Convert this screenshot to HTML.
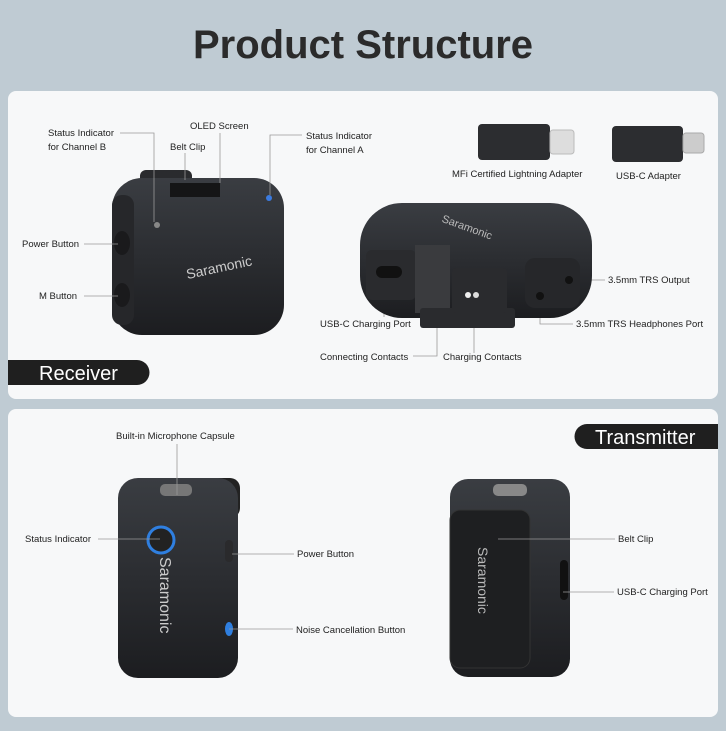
<!DOCTYPE html>
<html><head><meta charset="utf-8"><style>
body{margin:0;width:726px;height:726px;background:#bfcbd3;overflow:hidden;font-family:"Liberation Sans",sans-serif}
</style></head><body>
<svg width="726" height="726" viewBox="0 0 726 726" xmlns="http://www.w3.org/2000/svg" font-family="Liberation Sans, sans-serif">
<defs>
<linearGradient id="dk" x1="0" y1="0" x2="0" y2="1"><stop offset="0" stop-color="#3a3d42"/><stop offset="1" stop-color="#1c1d20"/></linearGradient>
</defs>
<rect width="726" height="726" fill="#bfcbd3"/>
<text x="363" y="58" text-anchor="middle" font-size="40" font-weight="bold" fill="#2b2b2b">Product Structure</text>
<rect x="8" y="91" width="710" height="308" rx="8" fill="#f7f8f9"/>
<rect x="8" y="409" width="710" height="308" rx="8" fill="#f7f8f9"/>
<path d="M8 360 H137 a12.5 12.5 0 0 1 0 25 H8 Z" fill="#1f1f1f"/>
<text x="39" y="380" font-size="20" fill="#fff">Receiver</text>
<path d="M718 424 H587 a12.5 12.5 0 0 0 0 25 H718 Z" fill="#1f1f1f"/>
<text x="595" y="444" font-size="20" fill="#fff">Transmitter</text>

<rect x="140" y="170" width="52" height="30" rx="6" fill="#2a2b2e"/>
<rect x="112" y="178" width="172" height="157" rx="30" fill="url(#dk)"/>
<rect x="112" y="195" width="22" height="130" rx="10" fill="#26272a"/>
<ellipse cx="122" cy="243" rx="8" ry="12" fill="#1a1a1c"/>
<ellipse cx="122" cy="295" rx="8" ry="12" fill="#1a1a1c"/>
<rect x="170" y="183" width="50" height="14" fill="#151516"/>
<circle cx="157" cy="225" r="3" fill="#888"/>
<circle cx="269" cy="198" r="3" fill="#3b7be0"/>
<text x="185" y="273" font-size="14" fill="#ccc" transform="rotate(-12 215 265)">Saramonic</text>
<g font-size="9.5" fill="#222">
<text x="48" y="136">Status Indicator</text><text x="48" y="150">for Channel B</text>
<text x="190" y="129">OLED Screen</text><text x="170" y="150">Belt Clip</text>
<text x="306" y="139">Status Indicator</text><text x="306" y="153">for Channel A</text>
<text x="22" y="247">Power Button</text><text x="39" y="299">M Button</text>
<text x="452" y="177">MFi Certified Lightning Adapter</text><text x="616" y="179">USB-C Adapter</text>
<text x="608" y="283">3.5mm TRS Output</text><text x="576" y="327">3.5mm TRS Headphones Port</text>
<text x="320" y="327">USB-C Charging Port</text>
<text x="320" y="360">Connecting Contacts</text><text x="443" y="360">Charging Contacts</text>
</g>
<g stroke="#999" stroke-width="0.8" fill="none">
<path d="M120 133 H154 V222"/><path d="M220 133 V183"/><path d="M185 153 V180"/><path d="M302 135 H270 V195"/>
<path d="M84 244 H118"/><path d="M84 296 H118"/>
<path d="M384 317 V272"/><path d="M413 356 H437 V282"/><path d="M474 353 V298"/>
<path d="M570 280 H605"/><path d="M540 296 V324 H573"/>
</g>
<rect x="478" y="124" width="72" height="36" rx="4" fill="#2c2d30"/><rect x="550" y="130" width="24" height="24" rx="3" fill="#ddd" stroke="#bbb"/>
<rect x="612" y="126" width="71" height="36" rx="4" fill="#2c2d30"/><rect x="683" y="133" width="21" height="20" rx="3" fill="#ccc" stroke="#aaa"/>
<rect x="360" y="203" width="232" height="115" rx="42" fill="url(#dk)"/>
<rect x="366" y="250" width="50" height="50" rx="6" fill="#2a2b2e"/>
<rect x="376" y="266" width="26" height="12" rx="6" fill="#111"/>
<rect x="415" y="245" width="35" height="68" fill="#3a3b3e"/>
<rect x="420" y="308" width="95" height="20" rx="3" fill="#2a2b2e"/>
<rect x="452" y="268" width="55" height="45" rx="4" fill="#2a2b2e"/>
<circle cx="468" cy="295" r="3" fill="#eee"/><circle cx="476" cy="295" r="3" fill="#ddd"/>
<rect x="525" y="258" width="55" height="50" rx="10" fill="#26272a"/>
<circle cx="569" cy="280" r="4" fill="#111"/><circle cx="540" cy="296" r="4" fill="#111"/>
<text x="440" y="232" font-size="11" fill="#bbb" transform="rotate(20 470 230)">Saramonic</text>

<rect x="170" y="478" width="70" height="40" rx="10" fill="#222"/>
<rect x="118" y="478" width="120" height="200" rx="20" fill="url(#dk)"/>
<rect x="160" y="484" width="32" height="12" rx="5" fill="#777"/>
<circle cx="161" cy="540" r="13" fill="#222" stroke="#2f7fe0" stroke-width="3"/>
<ellipse cx="229" cy="629" rx="4" ry="7" fill="#2f7fe0"/>
<rect x="225" y="540" width="8" height="22" rx="4" fill="#2a2a2c"/>
<text x="152" y="565" font-size="16" fill="#ccc" transform="rotate(90 160 565)">Saramonic</text>
<rect x="450" y="479" width="120" height="198" rx="18" fill="url(#dk)"/>
<rect x="493" y="484" width="34" height="12" rx="5" fill="#888"/>
<rect x="450" y="510" width="80" height="158" rx="10" fill="#1e1f21" stroke="#333"/>
<rect x="560" y="560" width="8" height="40" rx="4" fill="#111"/>
<text x="470" y="555" font-size="14" fill="#bbb" transform="rotate(90 478 555)">Saramonic</text>
<g font-size="9.5" fill="#222">
<text x="116" y="439">Built-in Microphone Capsule</text>
<text x="25" y="542">Status Indicator</text>
<text x="297" y="557">Power Button</text>
<text x="296" y="633">Noise Cancellation Button</text>
<text x="618" y="542">Belt Clip</text>
<text x="617" y="595">USB-C Charging Port</text>
</g>
<g stroke="#999" stroke-width="0.8" fill="none">
<path d="M177 444 V495"/><path d="M98 539 H160"/><path d="M232 554 H294"/><path d="M229 629 H293"/>
<path d="M498 539 H615"/><path d="M563 592 H614"/>
</g>
</svg>
</body></html>
